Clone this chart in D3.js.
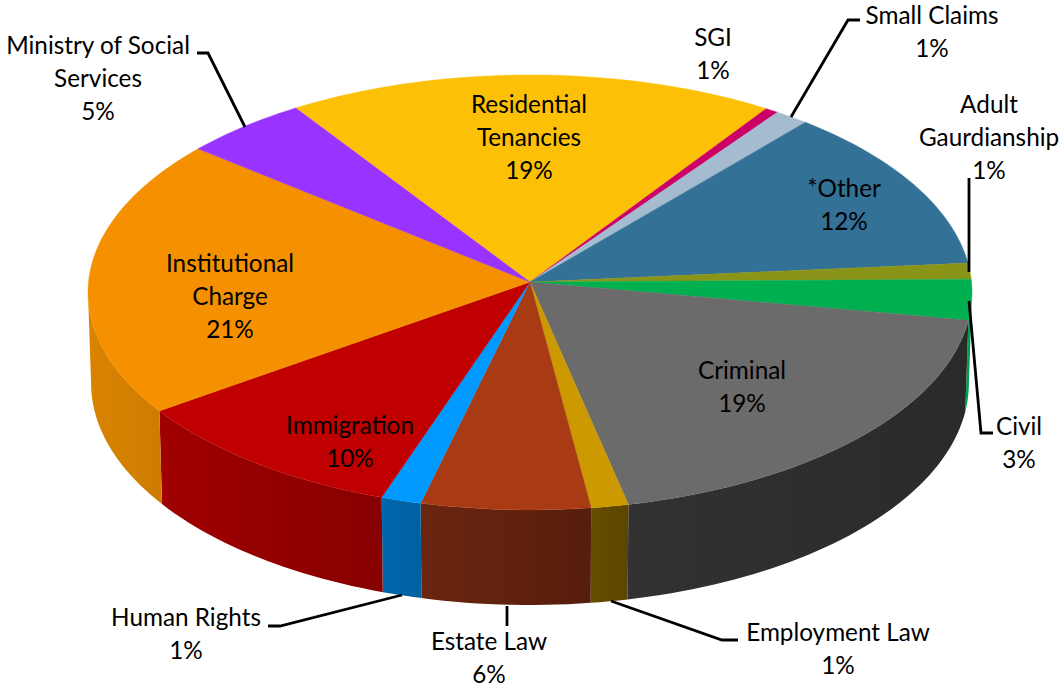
<!DOCTYPE html>
<html>
<head>
<meta charset="utf-8">
<script src="https://cdn.jsdelivr.net/npm/d3@7"></script>
<style>
  html, body { margin: 0; padding: 0; background: #fff; }
  svg { display: block; }
  text { font-family: Lato, sans-serif; font-size: 24.3px; fill: #000; }
</style>
</head>
<body>
<div id="chart"></div>
<script>
// share of files per category, clockwise from the top of the pie
var categories = ["Residential Tenancies", "SGI", "Small Claims", "*Other", "Adult Gaurdianship", "Civil",
  "Criminal", "Employment Law", "Estate Law", "Human Rights", "Immigration", "Institutional Charge", "Ministry of Social Services"];
var shares = [18.7, 0.5, 1.3, 12.4, 1.2, 3.0, 18.8, 1.3, 5.9, 1.4, 10.0, 20.7, 4.8];

var topColors = ["#fcc006", "#cc0066", "#a5bbd0", "#337196", "#8a9418", "#00b050",
  "#6b6b6b", "#cc9900", "#a83a14", "#0099ff", "#c00000", "#f59000", "#9933ff"];
// side wall, left and right end of the gradient
var wallLeft = ["#b08600", "#8e0047", "#7a8a9c", "#234f69", "#5f6710", "#00a04a",
  "#323232", "#664d00", "#6b2510", "#0068ad", "#a00000", "#d98300", "#6b24b3"];
var wallRight = ["#b08600", "#8e0047", "#7a8a9c", "#234f69", "#5f6710", "#00a04a",
  "#2a2a2a", "#5c4500", "#561e0c", "#00619f", "#880000", "#cf7c00", "#6b24b3"];

// label lines and where each label sits, leader lines
var labelLines = [["Residential", "Tenancies", "19%"], ["SGI", "1%"], ["Small Claims", "1%"], ["*Other", "12%"],
  ["Adult", "Gaurdianship", "1%"], ["Civil", "3%"], ["Criminal", "19%"], ["Employment Law", "1%"], ["Estate Law", "6%"],
  ["Human Rights", "1%"], ["Immigration", "10%"], ["Institutional", "Charge", "21%"], ["Ministry of Social", "Services", "5%"]];
var labelAt = [[529, 113], [713, 46], [932, 24], [844, 197], [989, 113], [1019, 435], [742, 379], [838, 641], [489, 650],
  [186, 626], [350, 434], [230, 272], [98, 54]];
var leaders = [
  [[197, 53], [208, 53], [245, 127]],
  [[860, 20], [848, 20], [791, 117]],
  [[969, 178], [969, 272]],
  [[969, 301], [981, 433], [993, 433]],
  [[268, 626], [280, 626], [402, 595]],
  [[507, 606], [507, 626]],
  [[611, 601], [722, 640], [738, 640]]
];

var width = 1061, height = 688;
var cx = 530, cy = 282, rx = 441.5, ry = 217, persp = 0.048, depth = 90.5, taper = 0.993;
var lineHeight = 33;

var svg = d3.select("#chart").append("svg")
  .attr("width", width)
  .attr("height", height);

var pie = d3.pie().sort(null).startAngle(-33.5 * Math.PI / 180).endAngle((360 - 33.5) * Math.PI / 180);
var slices = pie(shares);

// perspective projection of a rim point, a is clockwise from the back of the pie
function rim(a, drop) {
  var u = Math.sin(a), v = Math.cos(a);
  var s = 1 / (1 + persp * v);
  var k = drop ? taper : 1; // bottom ring sits a little narrower
  return [cx + rx * u * s * k, cy - ry * v * s + (drop || 0) * s];
}

function arcPoints(d, drop) {
  var n = Math.max(2, Math.ceil((d.endAngle - d.startAngle) * 40));
  return d3.range(n + 1).map(function(i) {
    return rim(d.startAngle + (d.endAngle - d.startAngle) * i / n, drop);
  });
}

var line = d3.line();
var defs = svg.append("defs");

// only the front of the side wall shows, cut each slice down to that part
var frontStart = Math.PI / 2 + Math.asin(persp);
var frontEnd = 3 * Math.PI / 2 - Math.asin(persp);
var walls = slices.map(function(d) {
  return { index: d.index, startAngle: Math.max(d.startAngle, frontStart), endAngle: Math.min(d.endAngle, frontEnd) };
}).filter(function(d) { return d.endAngle > d.startAngle; });

walls.forEach(function(d) {
  var top = arcPoints(d, 0), bottom = arcPoints(d, depth).reverse();
  var xs = top.map(function(p) { return p[0]; });
  var id = "wall" + d.index;
  var grad = defs.append("linearGradient").attr("id", id)
    .attr("gradientUnits", "userSpaceOnUse")
    .attr("x1", d3.min(xs)).attr("x2", d3.max(xs)).attr("y1", 0).attr("y2", 0);
  grad.append("stop").attr("offset", 0).attr("stop-color", wallLeft[d.index]);
  grad.append("stop").attr("offset", 1).attr("stop-color", wallRight[d.index]);
  svg.append("path")
    .attr("d", line(top.concat(bottom)) + "Z")
    .attr("fill", "url(#" + id + ")");
});

// top face
svg.selectAll(".slice")
  .data(slices)
  .enter()
  .append("path")
  .attr("class", "slice")
  .attr("d", function(d) { return line([[cx, cy]].concat(arcPoints(d, 0))) + "Z"; })
  .attr("fill", function(d) { return topColors[d.index]; })
  .attr("stroke", function(d) { return topColors[d.index]; })
  .attr("stroke-width", 0.4);

// leader lines
svg.selectAll(".leader")
  .data(leaders)
  .enter()
  .append("path")
  .attr("class", "leader")
  .attr("d", line)
  .attr("fill", "none")
  .attr("stroke", "#000")
  .attr("stroke-width", 2.8);

// labels
var labels = svg.selectAll(".label")
  .data(categories)
  .enter()
  .append("text")
  .attr("class", "label")
  .attr("text-anchor", "middle")
  .attr("transform", function(d, i) { return "translate(" + labelAt[i][0] + "," + labelAt[i][1] + ")"; });

labels.selectAll("tspan")
  .data(function(d, i) { return labelLines[i]; })
  .enter()
  .append("tspan")
  .attr("x", 0)
  .attr("y", function(d, i) { return i * lineHeight; })
  .text(function(d) { return d; });
</script>
</body>
</html>
